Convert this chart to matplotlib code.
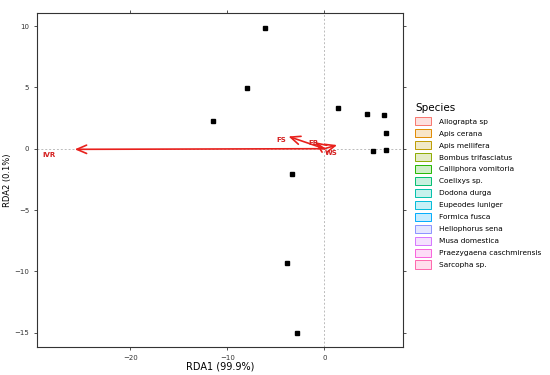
import matplotlib.pyplot as plt
from matplotlib.colors import to_rgb
from matplotlib.patches import Patch

# site scores
site_x = [-6.1, -8.0, -11.5, 1.4, 4.4, 6.15, 6.3, 6.35, 5.0, -3.3, -3.9, -2.8]
site_y = [9.85, 4.95, 2.25, 3.35, 2.85, 2.75, 1.25, -0.1, -0.2, -2.1, -9.3, -15.0]

# environmental vectors
env_names = ["IVR", "FS", "FB", "WS"]
env_x = [-25.7, -3.7, -1.0, 1.3]
env_y = [-0.05, 1.0, 0.55, 0.3]
label_x = [-28.4, -4.4, -1.1, 0.7]
label_y = [-0.5, 0.75, 0.5, -0.35]

species = ["Allograpta sp", "Apis cerana", "Apis mellifera", "Bombus trifasciatus",
           "Calliphora vomitoria", "Coelixys sp.", "Dodona durga", "Eupeodes luniger",
           "Formica fusca", "Heliophorus sena", "Musa domestica",
           "Praezygaena caschmirensis", "Sarcopha sp."]
species_colors = ["#F8766D", "#E18A00", "#BE9C00", "#8CAB00", "#24B700", "#00BE70",
                  "#00C1AB", "#00BBDA", "#00ACFC", "#8B93FF", "#D575FE", "#F962DD", "#FF65AC"]

fig = plt.figure(figsize=(5.5, 3.75), dpi=100)
ax = fig.add_axes([0.067, 0.075, 0.666, 0.89])

ax.axhline(0, color="#bbbbbb", ls=(0, (2, 2)), lw=0.7, zorder=1)
ax.axvline(0, color="#bbbbbb", ls=(0, (2, 2)), lw=0.7, zorder=1)

ax.plot(site_x, site_y, "s", color="black", ms=2.3, zorder=3)

for name, ex, ey, lx, ly in zip(env_names, env_x, env_y, label_x, label_y):
    ax.annotate("", xy=(ex, ey), xytext=(0, 0),
                arrowprops=dict(arrowstyle="->,head_length=0.7,head_width=0.3",
                                color="#e8201c", lw=1.2, shrinkA=0, shrinkB=0), zorder=4)
    ax.text(lx, ly, name, color="#d42020", fontsize=5, fontweight="bold",
            ha="center", va="center", zorder=5)

ax.set_xlim(-29.6, 8.1)
ax.set_ylim(-16.15, 11.05)
ax.set_xticks([-20, -10, 0])
ax.set_yticks([-15, -10, -5, 0, 5, 10])
ax.tick_params(labelsize=5, length=2, width=0.6, colors="#333333",
               top=True, right=True, direction="out")
for s in ax.spines.values():
    s.set_linewidth(0.8)
    s.set_color("#333333")
ax.set_xlabel("RDA1 (99.9%)", fontsize=7, labelpad=1)
ax.set_ylabel("RDA2 (0.1%)", fontsize=6, labelpad=2)

handles = [Patch(facecolor=(*to_rgb(c), 0.22), edgecolor=c, lw=0.7) for c in species_colors]
leg = fig.legend(handles, species, title="Species", loc="upper left",
                 bbox_to_anchor=(0.75, 0.732), frameon=False, fontsize=5.3,
                 title_fontsize=7.5, handlelength=2.1, handleheight=1.35,
                 labelspacing=0.5, handletextpad=1.1, borderaxespad=0)
leg._legend_box.align = "left"

fig.savefig("out.png", dpi=100)
